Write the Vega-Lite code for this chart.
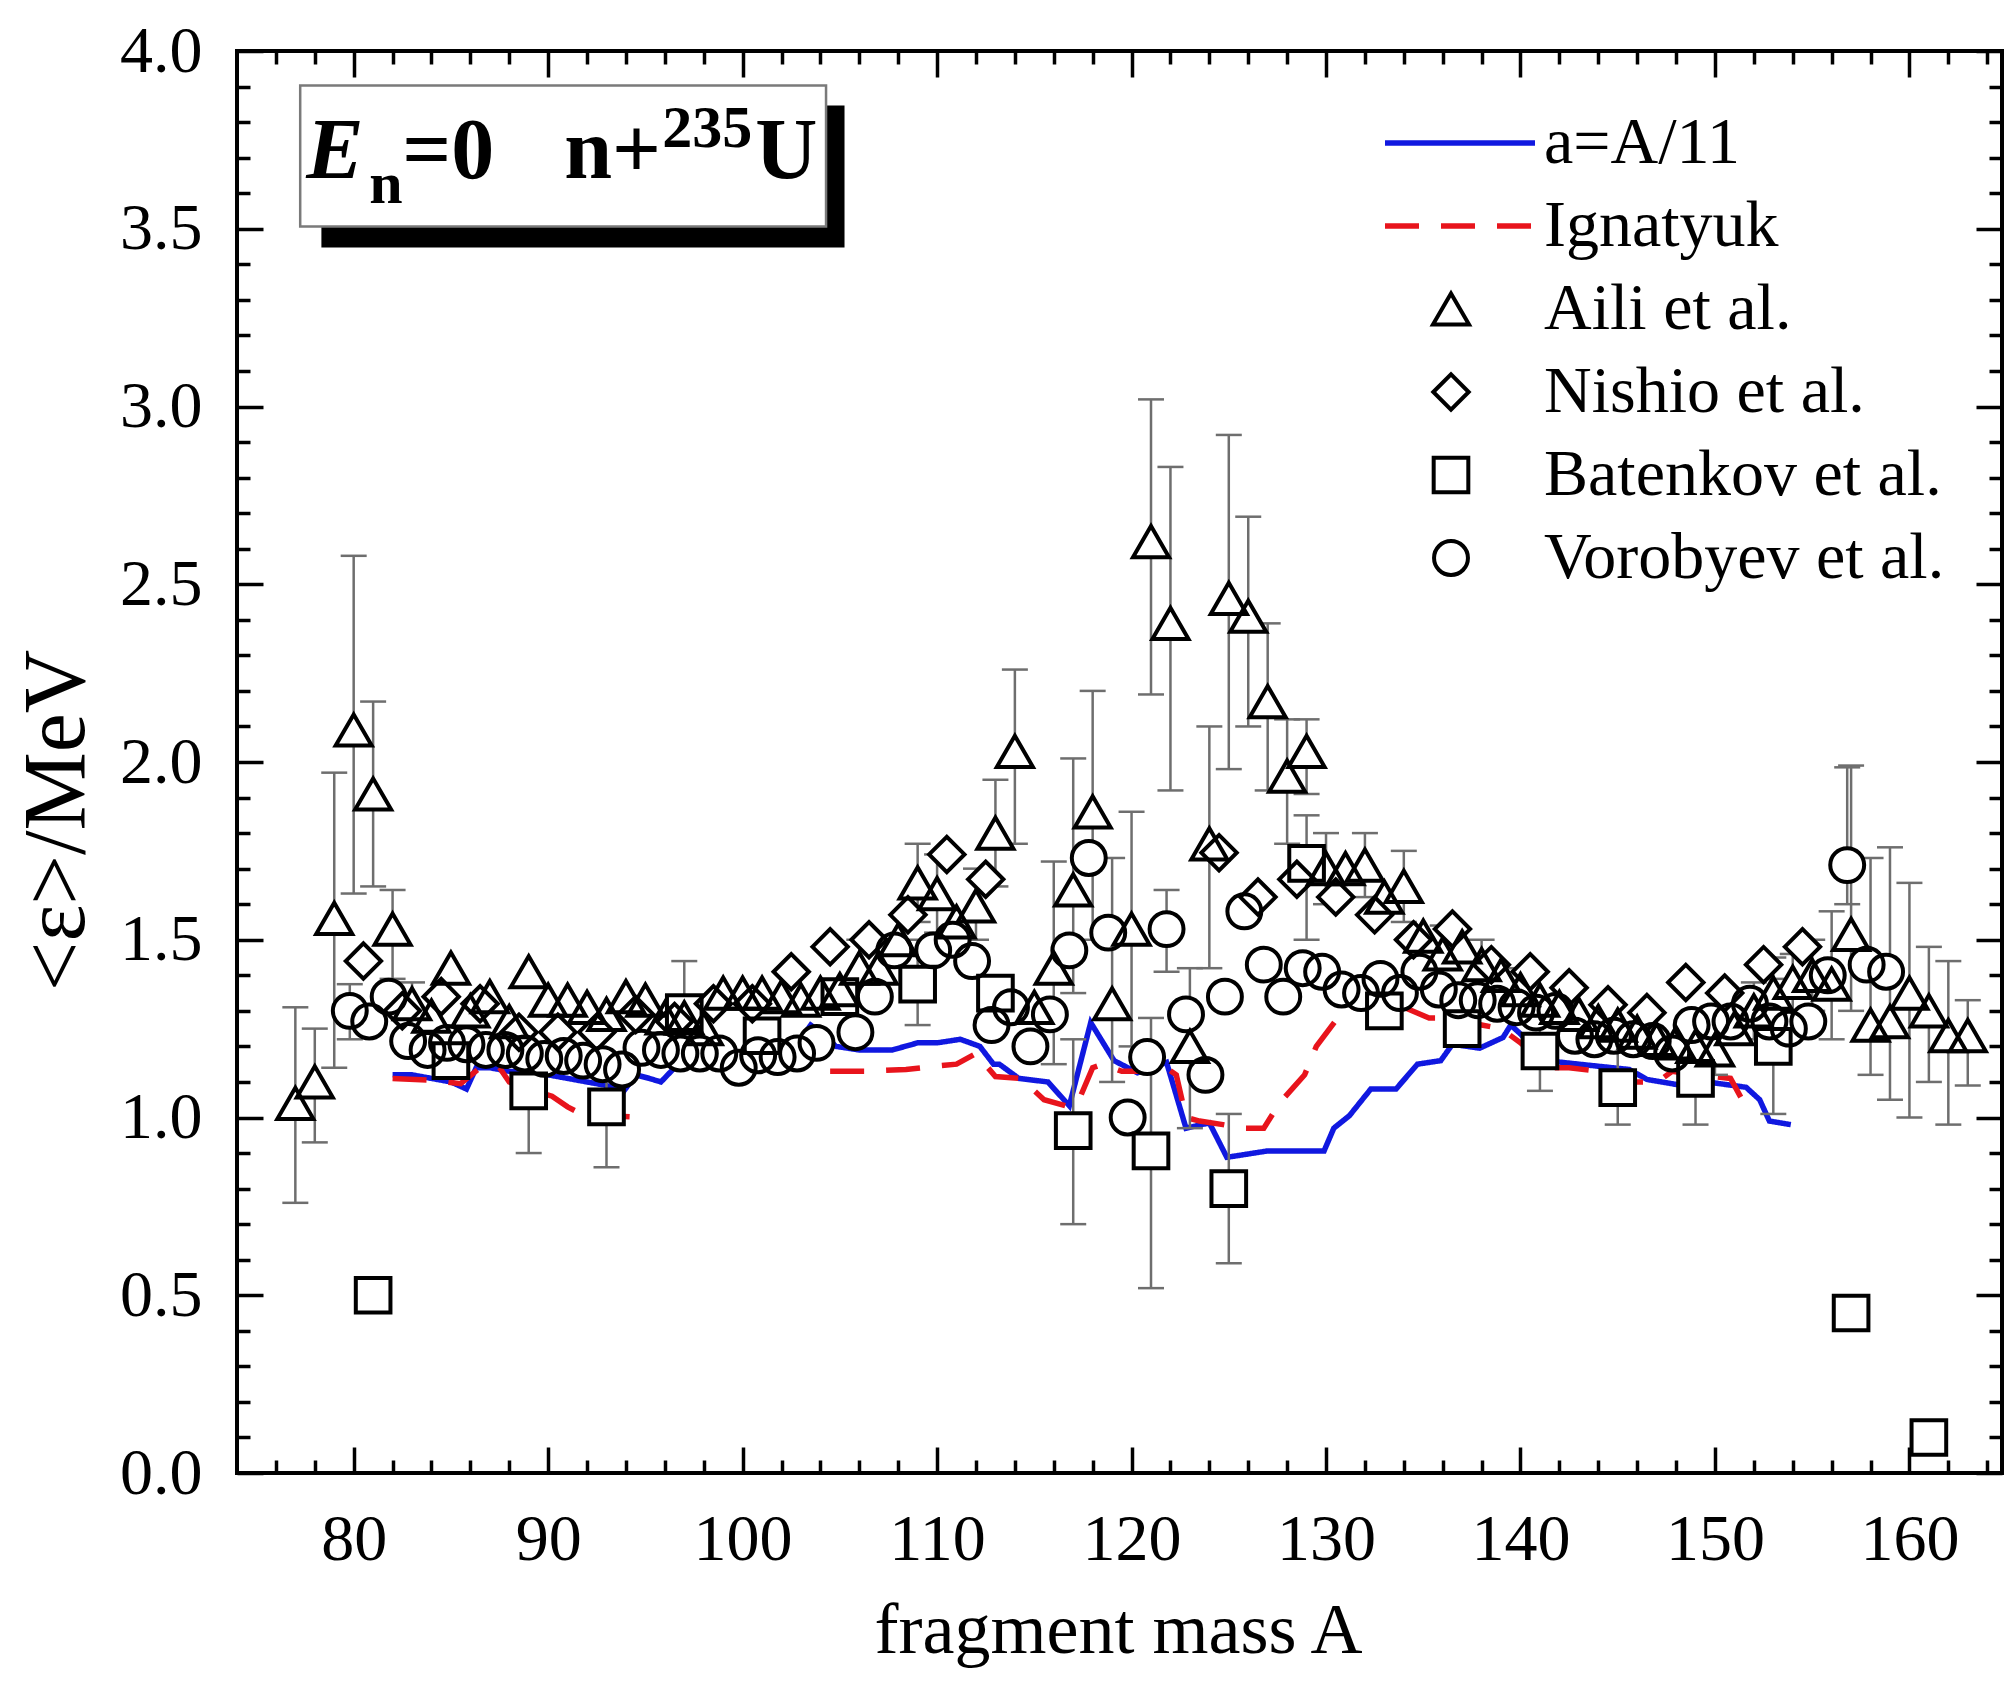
{
  "$schema": "https://vega.github.io/schema/vega-lite/v6.json",
  "autosize": {"type": "none"},
  "width": 1765,
  "height": 1422,
  "padding": {"left": 237, "top": 51, "right": 6, "bottom": 213},
  "background": "white",
  "datasets": {
    "pts": [
      {"s": "Aili et al.", "A": 77, "e": 1.04, "lo": 0.76, "hi": 1.31},
      {"s": "Aili et al.", "A": 78, "e": 1.10, "lo": 0.93, "hi": 1.25},
      {"s": "Aili et al.", "A": 79, "e": 1.56, "lo": 1.14, "hi": 1.97},
      {"s": "Aili et al.", "A": 80, "e": 2.09, "lo": 1.63, "hi": 2.58},
      {"s": "Aili et al.", "A": 81, "e": 1.91, "lo": 1.65, "hi": 2.17},
      {"s": "Aili et al.", "A": 82, "e": 1.53, "lo": 1.39, "hi": 1.64},
      {"s": "Aili et al.", "A": 83, "e": 1.32, "lo": 1.22, "hi": 1.38},
      {"s": "Aili et al.", "A": 84, "e": 1.285},
      {"s": "Aili et al.", "A": 85, "e": 1.42},
      {"s": "Aili et al.", "A": 86, "e": 1.30},
      {"s": "Aili et al.", "A": 87, "e": 1.34},
      {"s": "Aili et al.", "A": 88, "e": 1.27},
      {"s": "Aili et al.", "A": 89, "e": 1.41},
      {"s": "Aili et al.", "A": 90, "e": 1.33},
      {"s": "Aili et al.", "A": 91, "e": 1.33},
      {"s": "Aili et al.", "A": 92, "e": 1.31},
      {"s": "Aili et al.", "A": 93, "e": 1.29},
      {"s": "Aili et al.", "A": 94, "e": 1.34},
      {"s": "Aili et al.", "A": 95, "e": 1.33},
      {"s": "Aili et al.", "A": 96, "e": 1.28},
      {"s": "Aili et al.", "A": 97, "e": 1.28},
      {"s": "Aili et al.", "A": 98, "e": 1.25},
      {"s": "Aili et al.", "A": 99, "e": 1.35},
      {"s": "Aili et al.", "A": 100, "e": 1.35},
      {"s": "Aili et al.", "A": 101, "e": 1.35},
      {"s": "Aili et al.", "A": 102, "e": 1.34},
      {"s": "Aili et al.", "A": 103, "e": 1.33},
      {"s": "Aili et al.", "A": 104, "e": 1.35},
      {"s": "Aili et al.", "A": 105, "e": 1.36},
      {"s": "Aili et al.", "A": 106, "e": 1.42, "lo": 1.34, "hi": 1.50},
      {"s": "Aili et al.", "A": 107, "e": 1.42},
      {"s": "Aili et al.", "A": 108, "e": 1.50},
      {"s": "Aili et al.", "A": 109, "e": 1.66, "lo": 1.55, "hi": 1.77},
      {"s": "Aili et al.", "A": 110, "e": 1.63, "lo": 1.52, "hi": 1.74},
      {"s": "Aili et al.", "A": 111, "e": 1.55},
      {"s": "Aili et al.", "A": 112, "e": 1.595, "lo": 1.50, "hi": 1.70},
      {"s": "Aili et al.", "A": 113, "e": 1.80, "lo": 1.65, "hi": 1.95},
      {"s": "Aili et al.", "A": 114, "e": 2.03, "lo": 1.77, "hi": 2.26},
      {"s": "Aili et al.", "A": 115, "e": 1.31},
      {"s": "Aili et al.", "A": 116, "e": 1.42, "lo": 1.15, "hi": 1.72},
      {"s": "Aili et al.", "A": 117, "e": 1.64, "lo": 1.35, "hi": 2.01},
      {"s": "Aili et al.", "A": 118, "e": 1.86, "lo": 1.50, "hi": 2.20},
      {"s": "Aili et al.", "A": 119, "e": 1.32, "lo": 1.10, "hi": 1.73},
      {"s": "Aili et al.", "A": 120, "e": 1.53, "lo": 1.20, "hi": 1.86},
      {"s": "Aili et al.", "A": 121, "e": 2.62, "lo": 2.19, "hi": 3.02},
      {"s": "Aili et al.", "A": 122, "e": 2.39, "lo": 1.92, "hi": 2.83},
      {"s": "Aili et al.", "A": 123, "e": 1.20, "lo": 0.97, "hi": 1.42},
      {"s": "Aili et al.", "A": 124, "e": 1.77, "lo": 1.42, "hi": 2.10},
      {"s": "Aili et al.", "A": 125, "e": 2.46, "lo": 1.98, "hi": 2.92},
      {"s": "Aili et al.", "A": 126, "e": 2.41, "lo": 2.10, "hi": 2.69},
      {"s": "Aili et al.", "A": 127, "e": 2.17, "lo": 1.92, "hi": 2.39},
      {"s": "Aili et al.", "A": 128, "e": 1.96, "lo": 1.77, "hi": 2.12},
      {"s": "Aili et al.", "A": 129, "e": 2.03, "lo": 1.91, "hi": 2.12},
      {"s": "Aili et al.", "A": 130, "e": 1.70, "lo": 1.60, "hi": 1.80},
      {"s": "Aili et al.", "A": 131, "e": 1.70},
      {"s": "Aili et al.", "A": 132, "e": 1.71, "lo": 1.62, "hi": 1.80},
      {"s": "Aili et al.", "A": 133, "e": 1.62},
      {"s": "Aili et al.", "A": 134, "e": 1.65, "lo": 1.55, "hi": 1.75},
      {"s": "Aili et al.", "A": 135, "e": 1.51},
      {"s": "Aili et al.", "A": 136, "e": 1.46, "lo": 1.38, "hi": 1.54},
      {"s": "Aili et al.", "A": 137, "e": 1.48},
      {"s": "Aili et al.", "A": 138, "e": 1.43, "lo": 1.36, "hi": 1.50},
      {"s": "Aili et al.", "A": 139, "e": 1.40},
      {"s": "Aili et al.", "A": 140, "e": 1.36, "lo": 1.30, "hi": 1.42},
      {"s": "Aili et al.", "A": 141, "e": 1.33},
      {"s": "Aili et al.", "A": 142, "e": 1.31},
      {"s": "Aili et al.", "A": 143, "e": 1.29},
      {"s": "Aili et al.", "A": 144, "e": 1.27},
      {"s": "Aili et al.", "A": 145, "e": 1.26},
      {"s": "Aili et al.", "A": 146, "e": 1.24},
      {"s": "Aili et al.", "A": 147, "e": 1.22},
      {"s": "Aili et al.", "A": 148, "e": 1.21},
      {"s": "Aili et al.", "A": 149, "e": 1.20},
      {"s": "Aili et al.", "A": 150, "e": 1.19, "lo": 1.12, "hi": 1.26},
      {"s": "Aili et al.", "A": 151, "e": 1.25},
      {"s": "Aili et al.", "A": 152, "e": 1.30, "lo": 1.22, "hi": 1.38},
      {"s": "Aili et al.", "A": 153, "e": 1.35, "lo": 1.25, "hi": 1.45},
      {"s": "Aili et al.", "A": 154, "e": 1.38, "lo": 1.30, "hi": 1.46},
      {"s": "Aili et al.", "A": 155, "e": 1.40, "lo": 1.30, "hi": 1.50},
      {"s": "Aili et al.", "A": 156, "e": 1.375, "lo": 1.22, "hi": 1.58},
      {"s": "Aili et al.", "A": 157, "e": 1.515, "lo": 1.30, "hi": 1.99},
      {"s": "Aili et al.", "A": 158, "e": 1.26, "lo": 1.12, "hi": 1.73},
      {"s": "Aili et al.", "A": 159, "e": 1.27, "lo": 1.05, "hi": 1.76},
      {"s": "Aili et al.", "A": 160, "e": 1.35, "lo": 1.00, "hi": 1.66},
      {"s": "Aili et al.", "A": 161, "e": 1.30, "lo": 1.10, "hi": 1.48},
      {"s": "Aili et al.", "A": 162, "e": 1.23, "lo": 0.98, "hi": 1.44},
      {"s": "Aili et al.", "A": 163, "e": 1.23, "lo": 1.09, "hi": 1.33},
      {"s": "Nishio et al.", "A": 80.5, "e": 1.44},
      {"s": "Nishio et al.", "A": 82.5, "e": 1.30},
      {"s": "Nishio et al.", "A": 84.5, "e": 1.34},
      {"s": "Nishio et al.", "A": 86.5, "e": 1.32},
      {"s": "Nishio et al.", "A": 88.5, "e": 1.24},
      {"s": "Nishio et al.", "A": 90.5, "e": 1.24},
      {"s": "Nishio et al.", "A": 92.5, "e": 1.24},
      {"s": "Nishio et al.", "A": 94.5, "e": 1.29},
      {"s": "Nishio et al.", "A": 96.5, "e": 1.27},
      {"s": "Nishio et al.", "A": 98.5, "e": 1.32},
      {"s": "Nishio et al.", "A": 100.5, "e": 1.32},
      {"s": "Nishio et al.", "A": 102.5, "e": 1.41},
      {"s": "Nishio et al.", "A": 104.5, "e": 1.48},
      {"s": "Nishio et al.", "A": 106.5, "e": 1.50},
      {"s": "Nishio et al.", "A": 108.5, "e": 1.57},
      {"s": "Nishio et al.", "A": 110.5, "e": 1.74},
      {"s": "Nishio et al.", "A": 112.5, "e": 1.67},
      {"s": "Nishio et al.", "A": 124.5, "e": 1.745},
      {"s": "Nishio et al.", "A": 126.5, "e": 1.62},
      {"s": "Nishio et al.", "A": 128.5, "e": 1.67},
      {"s": "Nishio et al.", "A": 130.5, "e": 1.62},
      {"s": "Nishio et al.", "A": 132.5, "e": 1.57},
      {"s": "Nishio et al.", "A": 134.5, "e": 1.50},
      {"s": "Nishio et al.", "A": 136.5, "e": 1.53},
      {"s": "Nishio et al.", "A": 138.5, "e": 1.43},
      {"s": "Nishio et al.", "A": 140.5, "e": 1.41},
      {"s": "Nishio et al.", "A": 142.5, "e": 1.365},
      {"s": "Nishio et al.", "A": 144.5, "e": 1.317},
      {"s": "Nishio et al.", "A": 146.5, "e": 1.295},
      {"s": "Nishio et al.", "A": 148.5, "e": 1.38},
      {"s": "Nishio et al.", "A": 150.5, "e": 1.35},
      {"s": "Nishio et al.", "A": 152.5, "e": 1.43},
      {"s": "Nishio et al.", "A": 154.5, "e": 1.48},
      {"s": "Batenkov et al.", "A": 81, "e": 0.50},
      {"s": "Batenkov et al.", "A": 85, "e": 1.16},
      {"s": "Batenkov et al.", "A": 89, "e": 1.075, "lo": 0.90, "hi": 1.20},
      {"s": "Batenkov et al.", "A": 93, "e": 1.03, "lo": 0.86, "hi": 1.15},
      {"s": "Batenkov et al.", "A": 97, "e": 1.295, "lo": 1.15, "hi": 1.44},
      {"s": "Batenkov et al.", "A": 101, "e": 1.23},
      {"s": "Batenkov et al.", "A": 105, "e": 1.34},
      {"s": "Batenkov et al.", "A": 109, "e": 1.375, "lo": 1.26, "hi": 1.50},
      {"s": "Batenkov et al.", "A": 113, "e": 1.35},
      {"s": "Batenkov et al.", "A": 117, "e": 0.963, "lo": 0.70, "hi": 1.22},
      {"s": "Batenkov et al.", "A": 121, "e": 0.906, "lo": 0.52, "hi": 1.28},
      {"s": "Batenkov et al.", "A": 125, "e": 0.80, "lo": 0.59, "hi": 1.01},
      {"s": "Batenkov et al.", "A": 129, "e": 1.715, "lo": 1.50, "hi": 1.85},
      {"s": "Batenkov et al.", "A": 133, "e": 1.30},
      {"s": "Batenkov et al.", "A": 137, "e": 1.25},
      {"s": "Batenkov et al.", "A": 141, "e": 1.187, "lo": 1.075, "hi": 1.30},
      {"s": "Batenkov et al.", "A": 145, "e": 1.084, "lo": 0.98, "hi": 1.19},
      {"s": "Batenkov et al.", "A": 149, "e": 1.11, "lo": 0.98, "hi": 1.24},
      {"s": "Batenkov et al.", "A": 153, "e": 1.20, "lo": 1.01, "hi": 1.39},
      {"s": "Batenkov et al.", "A": 157, "e": 0.45},
      {"s": "Batenkov et al.", "A": 161, "e": 0.10},
      {"s": "Vorobyev et al.", "A": 79.8, "e": 1.30, "lo": 1.22, "hi": 1.375},
      {"s": "Vorobyev et al.", "A": 80.8, "e": 1.27},
      {"s": "Vorobyev et al.", "A": 81.8, "e": 1.34},
      {"s": "Vorobyev et al.", "A": 82.8, "e": 1.215},
      {"s": "Vorobyev et al.", "A": 83.8, "e": 1.19},
      {"s": "Vorobyev et al.", "A": 84.8, "e": 1.21},
      {"s": "Vorobyev et al.", "A": 85.8, "e": 1.206},
      {"s": "Vorobyev et al.", "A": 86.8, "e": 1.19},
      {"s": "Vorobyev et al.", "A": 87.8, "e": 1.19},
      {"s": "Vorobyev et al.", "A": 88.8, "e": 1.18},
      {"s": "Vorobyev et al.", "A": 89.8, "e": 1.165},
      {"s": "Vorobyev et al.", "A": 90.8, "e": 1.173},
      {"s": "Vorobyev et al.", "A": 91.8, "e": 1.16},
      {"s": "Vorobyev et al.", "A": 92.8, "e": 1.15},
      {"s": "Vorobyev et al.", "A": 93.8, "e": 1.135},
      {"s": "Vorobyev et al.", "A": 94.8, "e": 1.196},
      {"s": "Vorobyev et al.", "A": 95.8, "e": 1.19},
      {"s": "Vorobyev et al.", "A": 96.8, "e": 1.18},
      {"s": "Vorobyev et al.", "A": 97.8, "e": 1.18},
      {"s": "Vorobyev et al.", "A": 98.8, "e": 1.18},
      {"s": "Vorobyev et al.", "A": 99.8, "e": 1.14},
      {"s": "Vorobyev et al.", "A": 100.8, "e": 1.175},
      {"s": "Vorobyev et al.", "A": 101.8, "e": 1.17},
      {"s": "Vorobyev et al.", "A": 102.8, "e": 1.18},
      {"s": "Vorobyev et al.", "A": 103.8, "e": 1.21},
      {"s": "Vorobyev et al.", "A": 105.8, "e": 1.24},
      {"s": "Vorobyev et al.", "A": 106.8, "e": 1.34},
      {"s": "Vorobyev et al.", "A": 107.8, "e": 1.47},
      {"s": "Vorobyev et al.", "A": 109.8, "e": 1.47},
      {"s": "Vorobyev et al.", "A": 110.8, "e": 1.50},
      {"s": "Vorobyev et al.", "A": 111.8, "e": 1.44},
      {"s": "Vorobyev et al.", "A": 112.8, "e": 1.26},
      {"s": "Vorobyev et al.", "A": 113.8, "e": 1.31},
      {"s": "Vorobyev et al.", "A": 114.8, "e": 1.20},
      {"s": "Vorobyev et al.", "A": 115.8, "e": 1.29},
      {"s": "Vorobyev et al.", "A": 116.8, "e": 1.47},
      {"s": "Vorobyev et al.", "A": 117.8, "e": 1.73},
      {"s": "Vorobyev et al.", "A": 118.8, "e": 1.52},
      {"s": "Vorobyev et al.", "A": 119.8, "e": 1.00},
      {"s": "Vorobyev et al.", "A": 120.8, "e": 1.17},
      {"s": "Vorobyev et al.", "A": 121.8, "e": 1.53, "lo": 1.41, "hi": 1.64},
      {"s": "Vorobyev et al.", "A": 122.8, "e": 1.29},
      {"s": "Vorobyev et al.", "A": 123.8, "e": 1.12},
      {"s": "Vorobyev et al.", "A": 124.8, "e": 1.34},
      {"s": "Vorobyev et al.", "A": 125.8, "e": 1.58},
      {"s": "Vorobyev et al.", "A": 126.8, "e": 1.43},
      {"s": "Vorobyev et al.", "A": 127.8, "e": 1.34},
      {"s": "Vorobyev et al.", "A": 128.8, "e": 1.42},
      {"s": "Vorobyev et al.", "A": 129.8, "e": 1.41},
      {"s": "Vorobyev et al.", "A": 130.8, "e": 1.36},
      {"s": "Vorobyev et al.", "A": 131.8, "e": 1.35},
      {"s": "Vorobyev et al.", "A": 132.8, "e": 1.39},
      {"s": "Vorobyev et al.", "A": 133.8, "e": 1.35},
      {"s": "Vorobyev et al.", "A": 134.8, "e": 1.41},
      {"s": "Vorobyev et al.", "A": 135.8, "e": 1.36},
      {"s": "Vorobyev et al.", "A": 136.8, "e": 1.33},
      {"s": "Vorobyev et al.", "A": 137.8, "e": 1.33},
      {"s": "Vorobyev et al.", "A": 138.8, "e": 1.32},
      {"s": "Vorobyev et al.", "A": 139.8, "e": 1.31},
      {"s": "Vorobyev et al.", "A": 140.8, "e": 1.295},
      {"s": "Vorobyev et al.", "A": 141.8, "e": 1.30},
      {"s": "Vorobyev et al.", "A": 142.8, "e": 1.23},
      {"s": "Vorobyev et al.", "A": 143.8, "e": 1.22},
      {"s": "Vorobyev et al.", "A": 144.8, "e": 1.23},
      {"s": "Vorobyev et al.", "A": 145.8, "e": 1.22},
      {"s": "Vorobyev et al.", "A": 146.8, "e": 1.215},
      {"s": "Vorobyev et al.", "A": 147.8, "e": 1.18},
      {"s": "Vorobyev et al.", "A": 148.8, "e": 1.26},
      {"s": "Vorobyev et al.", "A": 149.8, "e": 1.27},
      {"s": "Vorobyev et al.", "A": 150.8, "e": 1.27},
      {"s": "Vorobyev et al.", "A": 151.8, "e": 1.32},
      {"s": "Vorobyev et al.", "A": 152.8, "e": 1.27},
      {"s": "Vorobyev et al.", "A": 153.8, "e": 1.25},
      {"s": "Vorobyev et al.", "A": 154.8, "e": 1.27},
      {"s": "Vorobyev et al.", "A": 155.8, "e": 1.40},
      {"s": "Vorobyev et al.", "A": 156.8, "e": 1.71, "lo": 1.60, "hi": 1.985},
      {"s": "Vorobyev et al.", "A": 157.8, "e": 1.43},
      {"s": "Vorobyev et al.", "A": 158.8, "e": 1.41}
    ],
    "lines": [
      {"m": "a=A/11", "g": "b", "A": 82, "e": 1.12},
      {"m": "a=A/11", "g": "b", "A": 83, "e": 1.12},
      {"m": "a=A/11", "g": "b", "A": 84, "e": 1.11},
      {"m": "a=A/11", "g": "b", "A": 85, "e": 1.10},
      {"m": "a=A/11", "g": "b", "A": 85.4, "e": 1.09},
      {"m": "a=A/11", "g": "b", "A": 85.8, "e": 1.08},
      {"m": "a=A/11", "g": "b", "A": 86.3, "e": 1.14},
      {"m": "a=A/11", "g": "b", "A": 87, "e": 1.14},
      {"m": "a=A/11", "g": "b", "A": 88, "e": 1.13},
      {"m": "a=A/11", "g": "b", "A": 89, "e": 1.125},
      {"m": "a=A/11", "g": "b", "A": 90, "e": 1.12},
      {"m": "a=A/11", "g": "b", "A": 91, "e": 1.11},
      {"m": "a=A/11", "g": "b", "A": 92, "e": 1.10},
      {"m": "a=A/11", "g": "b", "A": 93, "e": 1.09},
      {"m": "a=A/11", "g": "b", "A": 93.9, "e": 1.075},
      {"m": "a=A/11", "g": "b", "A": 94.5, "e": 1.12},
      {"m": "a=A/11", "g": "b", "A": 95.2, "e": 1.11},
      {"m": "a=A/11", "g": "b", "A": 95.8, "e": 1.10},
      {"m": "a=A/11", "g": "b", "A": 96.5, "e": 1.14},
      {"m": "a=A/11", "g": "b", "A": 97, "e": 1.15},
      {"m": "a=A/11", "g": "b", "A": 98, "e": 1.15},
      {"m": "a=A/11", "g": "b", "A": 99, "e": 1.16},
      {"m": "a=A/11", "g": "b", "A": 100, "e": 1.16},
      {"m": "a=A/11", "g": "b", "A": 101, "e": 1.17},
      {"m": "a=A/11", "g": "b", "A": 102, "e": 1.19},
      {"m": "a=A/11", "g": "b", "A": 103, "e": 1.22},
      {"m": "a=A/11", "g": "b", "A": 103.5, "e": 1.26},
      {"m": "a=A/11", "g": "b", "A": 104, "e": 1.24},
      {"m": "a=A/11", "g": "b", "A": 104.8, "e": 1.20},
      {"m": "a=A/11", "g": "b", "A": 106, "e": 1.19},
      {"m": "a=A/11", "g": "b", "A": 107.7, "e": 1.19},
      {"m": "a=A/11", "g": "b", "A": 109, "e": 1.21},
      {"m": "a=A/11", "g": "b", "A": 110, "e": 1.21},
      {"m": "a=A/11", "g": "b", "A": 111.2, "e": 1.22},
      {"m": "a=A/11", "g": "b", "A": 112.2, "e": 1.20},
      {"m": "a=A/11", "g": "b", "A": 112.9, "e": 1.15},
      {"m": "a=A/11", "g": "b", "A": 113.2, "e": 1.15},
      {"m": "a=A/11", "g": "b", "A": 114.2, "e": 1.11},
      {"m": "a=A/11", "g": "b", "A": 115.7, "e": 1.10},
      {"m": "a=A/11", "g": "b", "A": 116.8, "e": 1.033},
      {"m": "a=A/11", "g": "b", "A": 117.9, "e": 1.267},
      {"m": "a=A/11", "g": "b", "A": 119.1, "e": 1.16},
      {"m": "a=A/11", "g": "b", "A": 120.3, "e": 1.126},
      {"m": "a=A/11", "g": "b", "A": 121.8, "e": 1.155},
      {"m": "a=A/11", "g": "b", "A": 122.8, "e": 0.97},
      {"m": "a=A/11", "g": "b", "A": 124, "e": 0.985},
      {"m": "a=A/11", "g": "b", "A": 124.9, "e": 0.888},
      {"m": "a=A/11", "g": "b", "A": 127, "e": 0.906},
      {"m": "a=A/11", "g": "b", "A": 129.9, "e": 0.906},
      {"m": "a=A/11", "g": "b", "A": 130.4, "e": 0.97},
      {"m": "a=A/11", "g": "b", "A": 131.2, "e": 1.005},
      {"m": "a=A/11", "g": "b", "A": 132.3, "e": 1.08},
      {"m": "a=A/11", "g": "b", "A": 133.6, "e": 1.08},
      {"m": "a=A/11", "g": "b", "A": 134.7, "e": 1.15},
      {"m": "a=A/11", "g": "b", "A": 135.9, "e": 1.16},
      {"m": "a=A/11", "g": "b", "A": 136.5, "e": 1.206},
      {"m": "a=A/11", "g": "b", "A": 137.9, "e": 1.195},
      {"m": "a=A/11", "g": "b", "A": 139.1, "e": 1.225},
      {"m": "a=A/11", "g": "b", "A": 139.5, "e": 1.26},
      {"m": "a=A/11", "g": "b", "A": 140, "e": 1.235},
      {"m": "a=A/11", "g": "b", "A": 141.3, "e": 1.16},
      {"m": "a=A/11", "g": "b", "A": 143, "e": 1.15},
      {"m": "a=A/11", "g": "b", "A": 145.6, "e": 1.135},
      {"m": "a=A/11", "g": "b", "A": 146.5, "e": 1.107},
      {"m": "a=A/11", "g": "b", "A": 148, "e": 1.093},
      {"m": "a=A/11", "g": "b", "A": 149.6, "e": 1.10},
      {"m": "a=A/11", "g": "b", "A": 151.6, "e": 1.085},
      {"m": "a=A/11", "g": "b", "A": 152.3, "e": 1.05},
      {"m": "a=A/11", "g": "b", "A": 152.8, "e": 0.99},
      {"m": "a=A/11", "g": "b", "A": 153.9, "e": 0.98},
      {"m": "Ignatyuk", "g": "r1", "A": 82, "e": 1.11},
      {"m": "Ignatyuk", "g": "r1", "A": 84, "e": 1.105},
      {"m": "Ignatyuk", "g": "r1", "A": 85.5, "e": 1.095},
      {"m": "Ignatyuk", "g": "r1", "A": 86.5, "e": 1.14},
      {"m": "Ignatyuk", "g": "r1", "A": 87.5, "e": 1.14},
      {"m": "Ignatyuk", "g": "r1", "A": 88, "e": 1.10},
      {"m": "Ignatyuk", "g": "r1", "A": 89, "e": 1.08},
      {"m": "Ignatyuk", "g": "r1", "A": 90.2, "e": 1.06},
      {"m": "Ignatyuk", "g": "r1", "A": 91, "e": 1.03},
      {"m": "Ignatyuk", "g": "r1", "A": 91.7, "e": 1.01},
      {"m": "Ignatyuk", "g": "r1", "A": 93, "e": 1.005},
      {"m": "Ignatyuk", "g": "r1", "A": 95.1, "e": 1.0},
      {"m": "Ignatyuk", "g": "r2", "A": 104.5, "e": 1.13},
      {"m": "Ignatyuk", "g": "r2", "A": 106.3, "e": 1.13},
      {"m": "Ignatyuk", "g": "r2", "A": 108.4, "e": 1.135},
      {"m": "Ignatyuk", "g": "r2", "A": 110, "e": 1.145},
      {"m": "Ignatyuk", "g": "r2", "A": 111, "e": 1.15},
      {"m": "Ignatyuk", "g": "r2", "A": 112, "e": 1.18},
      {"m": "Ignatyuk", "g": "r2", "A": 113, "e": 1.115},
      {"m": "Ignatyuk", "g": "r2", "A": 114.3, "e": 1.11},
      {"m": "Ignatyuk", "g": "r2", "A": 115.5, "e": 1.05},
      {"m": "Ignatyuk", "g": "r2", "A": 116.8, "e": 1.03},
      {"m": "Ignatyuk", "g": "r2", "A": 117.3, "e": 1.05},
      {"m": "Ignatyuk", "g": "r2", "A": 118, "e": 1.14},
      {"m": "Ignatyuk", "g": "r2", "A": 118.5, "e": 1.15},
      {"m": "Ignatyuk", "g": "r2", "A": 119.5, "e": 1.13},
      {"m": "Ignatyuk", "g": "r2", "A": 120.5, "e": 1.13},
      {"m": "Ignatyuk", "g": "r2", "A": 121.5, "e": 1.15},
      {"m": "Ignatyuk", "g": "r2", "A": 122.3, "e": 1.12},
      {"m": "Ignatyuk", "g": "r2", "A": 122.8, "e": 1.00},
      {"m": "Ignatyuk", "g": "r2", "A": 123.5, "e": 0.99},
      {"m": "Ignatyuk", "g": "r2", "A": 124.7, "e": 0.98},
      {"m": "Ignatyuk", "g": "r2", "A": 125.7, "e": 0.97},
      {"m": "Ignatyuk", "g": "r2", "A": 126.8, "e": 0.97},
      {"m": "Ignatyuk", "g": "r2", "A": 127.6, "e": 1.04},
      {"m": "Ignatyuk", "g": "r2", "A": 128.9, "e": 1.12},
      {"m": "Ignatyuk", "g": "r2", "A": 129.5, "e": 1.20},
      {"m": "Ignatyuk", "g": "r2", "A": 130.6, "e": 1.28},
      {"m": "Ignatyuk", "g": "r2", "A": 131.2, "e": 1.31},
      {"m": "Ignatyuk", "g": "r2", "A": 132, "e": 1.33},
      {"m": "Ignatyuk", "g": "r2", "A": 133, "e": 1.33},
      {"m": "Ignatyuk", "g": "r2", "A": 134, "e": 1.31},
      {"m": "Ignatyuk", "g": "r2", "A": 135.3, "e": 1.28},
      {"m": "Ignatyuk", "g": "r2", "A": 136, "e": 1.28},
      {"m": "Ignatyuk", "g": "r2", "A": 137, "e": 1.27},
      {"m": "Ignatyuk", "g": "r2", "A": 138, "e": 1.26},
      {"m": "Ignatyuk", "g": "r2", "A": 139, "e": 1.25},
      {"m": "Ignatyuk", "g": "r2", "A": 140, "e": 1.21},
      {"m": "Ignatyuk", "g": "r2", "A": 141, "e": 1.16},
      {"m": "Ignatyuk", "g": "r2", "A": 141.7, "e": 1.14},
      {"m": "Ignatyuk", "g": "r2", "A": 142.5, "e": 1.14},
      {"m": "Ignatyuk", "g": "r2", "A": 144, "e": 1.13},
      {"m": "Ignatyuk", "g": "r2", "A": 145.8, "e": 1.10},
      {"m": "Ignatyuk", "g": "r2", "A": 146.5, "e": 1.10},
      {"m": "Ignatyuk", "g": "r2", "A": 147.3, "e": 1.11},
      {"m": "Ignatyuk", "g": "r2", "A": 147.8, "e": 1.13},
      {"m": "Ignatyuk", "g": "r2", "A": 149, "e": 1.12},
      {"m": "Ignatyuk", "g": "r2", "A": 150, "e": 1.115},
      {"m": "Ignatyuk", "g": "r2", "A": 150.8, "e": 1.11},
      {"m": "Ignatyuk", "g": "r2", "A": 151.4, "e": 1.05},
      {"m": "Ignatyuk", "g": "r2", "A": 152, "e": 1.03}
    ],
    "boxes": [
      {"k": "shadow", "A": 78.34, "A2": 105.24, "e": 3.847, "e2": 3.447},
      {"k": "box", "A": 77.25, "A2": 104.29, "e": 3.903, "e2": 3.506}
    ],
    "ann": [
      {"k": "it", "A": 77.56, "e": 3.642, "t": "E"},
      {"k": "sm", "A": 80.8, "e": 3.572, "t": "n"},
      {"k": "bd", "A": 82.5, "e": 3.642, "t": "=0"},
      {"k": "bd", "A": 90.83, "e": 3.642, "t": "n+"},
      {"k": "sm", "A": 95.87, "e": 3.729, "t": "235"},
      {"k": "bd", "A": 100.65, "e": 3.642, "t": "U"}
    ]
  },
  "layer": [
    {
      "data": {"name": "lines"},
      "mark": {"type": "line", "strokeWidth": 5.5, "clip": true},
      "encoding": {
        "x": {"field": "A", "type": "quantitative", "scale": {"domain": [74, 164.76], "nice": false, "zero": false},
          "axis": {"orient": "bottom", "values": [80, 90, 100, 110, 120, 130, 140, 150, 160], "ticks": false, "labelFontSize": 66, "labelPadding": 34,
            "title": "fragment mass A", "titleFontSize": 72, "titleX": 881, "titleY": 179, "titleBaseline": "alphabetic", "titleAlign": "center"}},
        "y": {"field": "e", "type": "quantitative", "scale": {"domain": [0, 4], "nice": false, "zero": false},
          "axis": {"orient": "left", "values": [0, 0.5, 1, 1.5, 2, 2.5, 3, 3.5, 4], "format": ".1f", "ticks": false, "labelFontSize": 66, "labelPadding": 35,
            "title": "<ε>/MeV", "titleFontSize": 88, "titleX": -180, "titleY": 769, "titleAngle": -90, "titleBaseline": "middle", "titleAlign": "center"}},
        "detail": {"field": "g"},
        "stroke": {"field": "m", "type": "nominal",
          "scale": {"domain": ["a=A/11", "Ignatyuk"], "range": ["#1018e0", "#e8141c"]},
          "legend": {"orient": "none", "legendX": 1190, "legendY": 59, "title": null, "padding": 0,
            "symbolType": "M-3.75,0H3.75", "symbolSize": 1600, "symbolStrokeWidth": 5.5,
            "labelFont": "Liberation Serif", "labelFontSize": 66, "labelColor": "black", "labelOffset": 51, "rowPadding": 17, "labelLimit": 800}},
        "strokeDash": {"field": "m", "type": "nominal",
          "scale": {"domain": ["a=A/11", "Ignatyuk"], "range": [[1, 0], [34, 22]]},
          "legend": {"orient": "none", "legendX": 1190, "legendY": 59, "title": null, "padding": 0,
            "symbolType": "M-3.75,0H3.75", "symbolSize": 1600, "symbolStrokeWidth": 5.5,
            "labelFont": "Liberation Serif", "labelFontSize": 66, "labelColor": "black", "labelOffset": 51, "rowPadding": 17, "labelLimit": 800}}
      }
    },
    {
      "data": {"name": "pts"},
      "transform": [{"filter": "isValid(datum.lo)"}],
      "mark": {"type": "rule", "color": "#6e6e6e", "strokeWidth": 2.5},
      "encoding": {
        "x": {"field": "A", "type": "quantitative", "scale": {"domain": [74, 164.76], "nice": false, "zero": false},
          "axis": {"orient": "bottom", "values": [80, 90, 100, 110, 120, 130, 140, 150, 160], "labels": false, "tickSize": -26, "title": null}},
        "y": {"field": "lo", "type": "quantitative", "scale": {"domain": [0, 4], "nice": false, "zero": false},
          "axis": {"orient": "left", "values": [0, 0.5, 1, 1.5, 2, 2.5, 3, 3.5, 4], "labels": false, "tickSize": -26, "title": null}},
        "y2": {"field": "hi"}
      }
    },
    {
      "data": {"name": "pts"},
      "transform": [{"fold": ["lo", "hi"], "as": ["k", "v"]}, {"filter": "isValid(datum.v)"}],
      "mark": {"type": "point", "shape": "stroke", "size": 676, "color": "#6e6e6e", "strokeWidth": 2.5, "opacity": 1},
      "encoding": {
        "x": {"field": "A", "type": "quantitative", "scale": {"domain": [74, 164.76], "nice": false, "zero": false},
          "axis": {"orient": "top", "values": [80, 90, 100, 110, 120, 130, 140, 150, 160], "labels": false, "tickSize": -26, "title": null}},
        "y": {"field": "v", "type": "quantitative", "scale": {"domain": [0, 4], "nice": false, "zero": false},
          "axis": {"orient": "right", "values": [0, 0.5, 1, 1.5, 2, 2.5, 3, 3.5, 4], "labels": false, "tickSize": -26, "title": null}}
      }
    },
    {
      "data": {"name": "pts"},
      "mark": {"type": "point", "filled": true, "fill": "white", "strokeWidth": 0, "opacity": 1},
      "encoding": {
        "x": {"field": "A", "type": "quantitative", "scale": {"domain": [74, 164.76], "nice": false, "zero": false},
          "axis": {"orient": "bottom", "values": [76, 78, 82, 84, 86, 88, 92, 94, 96, 98, 102, 104, 106, 108, 112, 114, 116, 118, 122, 124, 126, 128, 132, 134, 136, 138, 142, 144, 146, 148, 152, 154, 156, 158, 162, 164], "labels": false, "tickSize": -13, "title": null}},
        "y": {"field": "e", "type": "quantitative", "scale": {"domain": [0, 4], "nice": false, "zero": false},
          "axis": {"orient": "left", "values": [0.1, 0.2, 0.3, 0.4, 0.6, 0.7, 0.8, 0.9, 1.1, 1.2, 1.3, 1.4, 1.6, 1.7, 1.8, 1.9, 2.1, 2.2, 2.3, 2.4, 2.6, 2.7, 2.8, 2.9, 3.1, 3.2, 3.3, 3.4, 3.6, 3.7, 3.8, 3.9], "labels": false, "tickSize": -13, "title": null}},
        "shape": {"field": "s", "type": "nominal",
          "scale": {"domain": ["Aili et al.", "Nishio et al.", "Batenkov et al.", "Vorobyev et al."], "range": ["triangle-up", "diamond", "square", "circle"]},
          "legend": null},
        "size": {"field": "s", "type": "nominal",
          "scale": {"domain": ["Aili et al.", "Nishio et al.", "Batenkov et al.", "Vorobyev et al."], "range": [1300, 1150, 850, 950]},
          "legend": null}
      }
    },
    {
      "data": {"name": "pts"},
      "mark": {"type": "point", "filled": false, "stroke": "black", "strokeWidth": 4, "opacity": 1},
      "encoding": {
        "x": {"field": "A", "type": "quantitative", "scale": {"domain": [74, 164.76], "nice": false, "zero": false},
          "axis": {"orient": "top", "values": [76, 78, 82, 84, 86, 88, 92, 94, 96, 98, 102, 104, 106, 108, 112, 114, 116, 118, 122, 124, 126, 128, 132, 134, 136, 138, 142, 144, 146, 148, 152, 154, 156, 158, 162, 164], "labels": false, "tickSize": -13, "title": null}},
        "y": {"field": "e", "type": "quantitative", "scale": {"domain": [0, 4], "nice": false, "zero": false},
          "axis": {"orient": "right", "values": [0.1, 0.2, 0.3, 0.4, 0.6, 0.7, 0.8, 0.9, 1.1, 1.2, 1.3, 1.4, 1.6, 1.7, 1.8, 1.9, 2.1, 2.2, 2.3, 2.4, 2.6, 2.7, 2.8, 2.9, 3.1, 3.2, 3.3, 3.4, 3.6, 3.7, 3.8, 3.9], "labels": false, "tickSize": -13, "title": null}},
        "shape": {"field": "s", "type": "nominal",
          "scale": {"domain": ["Aili et al.", "Nishio et al.", "Batenkov et al.", "Vorobyev et al."], "range": ["triangle-up", "diamond", "square", "circle"]},
          "legend": {"orient": "none", "legendX": 1181, "legendY": 225, "title": null, "padding": 0,
            "symbolStrokeWidth": 4, "symbolStrokeColor": "black",
            "labelFont": "Liberation Serif", "labelFontSize": 66, "labelColor": "black", "labelOffset": 60, "rowPadding": 17, "labelLimit": 800}},
        "size": {"field": "s", "type": "nominal",
          "scale": {"domain": ["Aili et al.", "Nishio et al.", "Batenkov et al.", "Vorobyev et al."], "range": [1300, 1150, 850, 950]},
          "legend": {"orient": "none", "legendX": 1181, "legendY": 225, "title": null, "padding": 0,
            "symbolStrokeWidth": 4, "symbolStrokeColor": "black",
            "labelFont": "Liberation Serif", "labelFontSize": 66, "labelColor": "black", "labelOffset": 60, "rowPadding": 17, "labelLimit": 800}}
      }
    },
    {
      "data": {"name": "boxes"},
      "transform": [{"filter": "datum.k === 'shadow'"}],
      "mark": {"type": "rect", "color": "black"},
      "encoding": {
        "x": {"field": "A", "type": "quantitative", "axis": null},
        "x2": {"field": "A2"},
        "y": {"field": "e", "type": "quantitative", "axis": null},
        "y2": {"field": "e2"}
      }
    },
    {
      "data": {"name": "boxes"},
      "transform": [{"filter": "datum.k === 'box'"}],
      "mark": {"type": "rect", "fill": "white", "stroke": "#7a7a7a", "strokeWidth": 2.5},
      "encoding": {
        "x": {"field": "A", "type": "quantitative", "axis": null},
        "x2": {"field": "A2"},
        "y": {"field": "e", "type": "quantitative", "axis": null},
        "y2": {"field": "e2"}
      }
    },
    {
      "data": {"name": "ann"},
      "transform": [{"filter": "datum.k === 'it'"}],
      "mark": {"type": "text", "font": "Liberation Serif", "fontSize": 86, "fontWeight": "bold", "fontStyle": "italic", "align": "left", "baseline": "alphabetic", "color": "black"},
      "encoding": {
        "x": {"field": "A", "type": "quantitative", "axis": null},
        "y": {"field": "e", "type": "quantitative", "axis": null},
        "text": {"field": "t"}
      }
    },
    {
      "data": {"name": "ann"},
      "transform": [{"filter": "datum.k === 'bd'"}],
      "mark": {"type": "text", "font": "Liberation Serif", "fontSize": 86, "fontWeight": "bold", "align": "left", "baseline": "alphabetic", "color": "black"},
      "encoding": {
        "x": {"field": "A", "type": "quantitative", "axis": null},
        "y": {"field": "e", "type": "quantitative", "axis": null},
        "text": {"field": "t"}
      }
    },
    {
      "data": {"name": "ann"},
      "transform": [{"filter": "datum.k === 'sm'"}],
      "mark": {"type": "text", "font": "Liberation Serif", "fontSize": 60, "fontWeight": "bold", "align": "left", "baseline": "alphabetic", "color": "black"},
      "encoding": {
        "x": {"field": "A", "type": "quantitative", "axis": null},
        "y": {"field": "e", "type": "quantitative", "axis": null},
        "text": {"field": "t"}
      }
    }
  ],
  "resolve": {"axis": {"x": "independent", "y": "independent"}, "scale": {"shape": "independent", "size": "independent"}},
  "config": {
    "view": {"stroke": "black", "strokeWidth": 4},
    "axis": {"grid": false, "domain": false, "labelFont": "Liberation Serif", "titleFont": "Liberation Serif", "labelColor": "black", "titleColor": "black", "titleFontWeight": "normal", "tickColor": "black", "tickWidth": 3.5}
  }
}
